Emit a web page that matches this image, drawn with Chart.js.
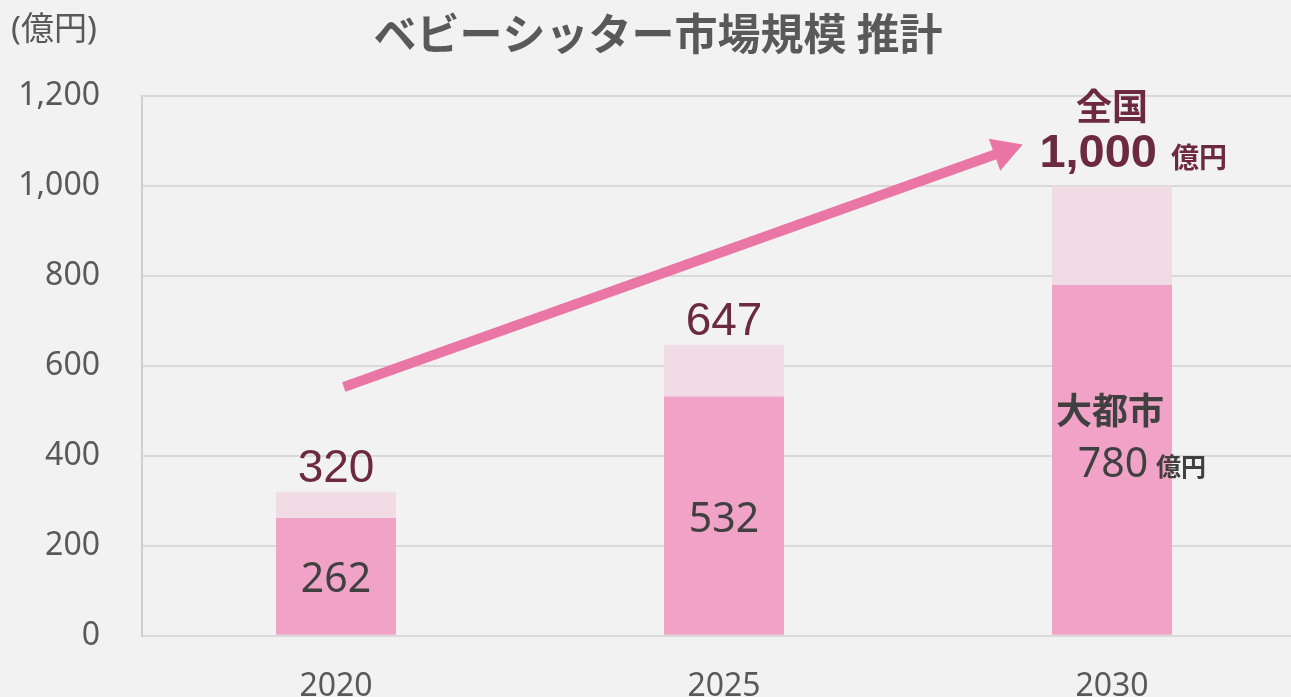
<!DOCTYPE html>
<html>
<head>
<meta charset="utf-8">
<script src="https://cdn.jsdelivr.net/npm/chart.js@4"></script>
<style>
  html, body { margin: 0; padding: 0; background: #f2f2f2; overflow: hidden; }
  #wrap { position: relative; width: 1310px; height: 697px; }
</style>
</head>
<body>
<div id="wrap"><canvas id="marketChart"></canvas></div>
<script>
// data
const years = ['2020', '2025', '2030'];
const cityValues = [262, 532, 780];        // 大都市
const nationalValues = [320, 647, 1000];   // 全国
const yTicks = [0, 200, 400, 600, 800, 1000, 1200];
// arrow in data units: [category index, value]
const arrowFrom = [0.02, 553];
const arrowTo = [1.77, 1092];

const restValues = nationalValues.map((v, i) => v - cityValues[i]);

const CJK = '"Noto Sans CJK JP", "Noto Sans", sans-serif';
const NUM = '"Noto Sans", "Noto Sans CJK JP", sans-serif';

const fmt = n => n.toLocaleString('en-US');

const bgPlugin = {
    id: 'bg',
    beforeDraw(chart) {
        const c = chart.ctx;
        c.save();
        c.fillStyle = '#f2f2f2';
        c.fillRect(0, 0, chart.width, chart.height);
        c.restore();
    }
};

const textPlugin = {
    id: 'texts',
    afterDraw(chart) {
        const c = chart.ctx;
        const x = chart.scales.x, y = chart.scales.y;
        c.save();

        // title + unit
        c.fillStyle = '#595959';
        c.textBaseline = 'middle';
        c.textAlign = 'center';
        c.font = 'bold 43px ' + CJK;
        c.fillText('ベビーシッター市場規模 推計', 658, 34);
        c.textAlign = 'left';
        c.font = '33px ' + NUM;
        c.fillText('(億円)', 11, 31);

        // arrow
        const x1 = x.getPixelForValue(arrowFrom[0]), y1 = y.getPixelForValue(arrowFrom[1]);
        const x2 = x.getPixelForValue(arrowTo[0]), y2 = y.getPixelForValue(arrowTo[1]);
        const ang = Math.atan2(y2 - y1, x2 - x1);
        const headLen = 30, headHalf = 17;
        const bx = x2 - headLen * Math.cos(ang), by = y2 - headLen * Math.sin(ang);
        c.strokeStyle = '#ea76a6';
        c.fillStyle = '#ea76a6';
        c.lineWidth = 10;
        c.beginPath();
        c.moveTo(x1, y1);
        c.lineTo(bx + 2 * Math.cos(ang), by + 2 * Math.sin(ang));
        c.stroke();
        c.beginPath();
        c.moveTo(x2, y2);
        c.lineTo(bx + headHalf * Math.sin(ang), by - headHalf * Math.cos(ang));
        c.lineTo(bx - headHalf * Math.sin(ang), by + headHalf * Math.cos(ang));
        c.closePath();
        c.fill();

        // value labels
        const low = chart.getDatasetMeta(0).data;
        const top = chart.getDatasetMeta(1).data;
        const last = years.length - 1;
        c.textBaseline = 'alphabetic';
        years.forEach((yr, i) => {
            const bx0 = low[i].x;
            const mid = (low[i].y + low[i].base) / 2;
            const topY = top[i].y;
            if (i < last) {
                c.textAlign = 'center';
                c.fillStyle = '#404040';
                c.font = '41px ' + NUM;
                c.fillText(String(cityValues[i]), bx0, mid + 16);
                c.fillStyle = '#6b2a40';
                c.font = '46px "Liberation Sans", Arial, sans-serif';
                c.fillText(String(nationalValues[i]), bx0, topY - 10);
            } else {
                // 大都市
                c.fillStyle = '#404040';
                c.textAlign = 'center';
                c.font = 'bold 36px ' + CJK;
                c.fillText('大都市', bx0 - 2, mid - 36);
                c.font = '41px ' + NUM;
                c.fillText(String(cityValues[i]), bx0 + 1, mid + 17);
                c.textAlign = 'left';
                c.font = 'bold 25px ' + CJK;
                c.fillText('億円', bx0 + 44, mid + 16);
                // 全国
                c.fillStyle = '#6b2a40';
                c.textAlign = 'center';
                c.font = 'bold 36px ' + CJK;
                c.fillText('全国', bx0, topY - 66);
                c.textAlign = 'right';
                c.font = 'bold 47px "Liberation Sans", Arial, sans-serif';
                c.fillText(fmt(nationalValues[i]), bx0 + 45, topY - 19);
                c.textAlign = 'left';
                c.font = 'bold 28px ' + CJK;
                c.fillText('億円', bx0 + 59, topY - 18);
            }
        });
        c.restore();
    }
};

const ctx = document.getElementById('marketChart').getContext('2d');
new Chart(ctx, {
    type: 'bar',
    data: {
        labels: years,
        datasets: [{
            label: '大都市',
            data: cityValues,
            backgroundColor: '#f0a3c6',
            barPercentage: 0.309,
            categoryPercentage: 1
        }, {
            label: '全国',
            data: restValues,
            backgroundColor: '#f1dbe4',
            barPercentage: 0.309,
            categoryPercentage: 1
        }]
    },
    options: {
        responsive: true,
        maintainAspectRatio: false,
        animation: false,
        layout: { padding: { top: 96, right: 4, left: 0, bottom: 0 } },
        plugins: {
            legend: { display: false },
            tooltip: { enabled: false }
        },
        scales: {
            x: {
                stacked: true,
                grid: { display: false },
                border: { display: true, color: '#d9d9d9', width: 2 },
                ticks: { color: '#595959', font: { family: 'Noto Sans', size: 32 }, padding: 24 },
                afterFit(scale) { scale.height = 61; }
            },
            y: {
                stacked: true,
                min: 0,
                max: 1200,
                afterBuildTicks(scale) { scale.ticks = yTicks.map(v => ({ value: v })); },
                grid: { color: '#d9d9d9', lineWidth: 2, drawTicks: false },
                border: { display: true, color: '#cfcfcf', width: 2 },
                ticks: {
                    color: '#595959',
                    font: { family: 'Noto Sans', size: 32 },
                    padding: 42,
                    callback: v => fmt(v)
                },
                afterFit(scale) { scale.width = 142; }
            }
        }
    },
    plugins: [bgPlugin, textPlugin]
});
</script>
</body>
</html>
